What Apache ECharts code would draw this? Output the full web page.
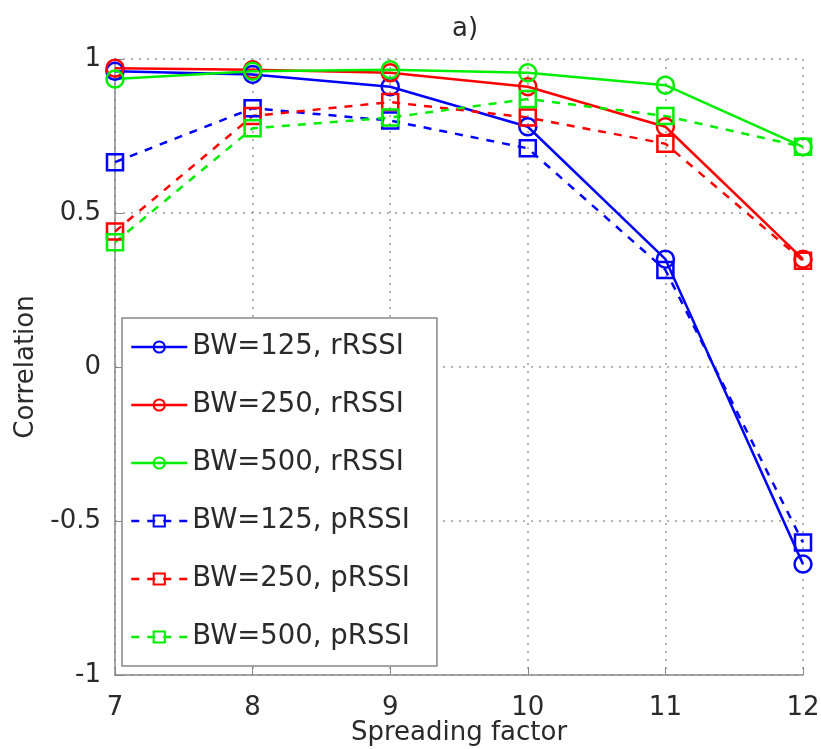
<!DOCTYPE html>
<html>
<head>
<meta charset="utf-8">
<script src="https://cdn.jsdelivr.net/npm/echarts@6/dist/echarts.min.js"></script>
<style>
  html, body { margin: 0; padding: 0; background: #fff; }
  #chart { width: 821px; height: 749px; }
</style>
</head>
<body>
<div id="chart"></div>
<script>
// spreading factors on the x axis
const spreadingFactors = [7, 8, 9, 10, 11, 12];

// correlation values
const bw125r = [0.96, 0.95, 0.91, 0.78, 0.35, -0.64];
const bw250r = [0.97, 0.965, 0.955, 0.91, 0.78, 0.35];
const bw500r = [0.935, 0.96, 0.965, 0.955, 0.915, 0.715];
const bw125p = [0.665, 0.84, 0.80, 0.71, 0.315, -0.57];
const bw250p = [0.44, 0.815, 0.86, 0.81, 0.725, 0.345];
const bw500p = [0.405, 0.775, 0.81, 0.87, 0.815, 0.715];

const font = 'DejaVu Sans';
const textColor = '#2a2a2a';

function pairs(vals) {
    return spreadingFactors.map((x, i) => [x, vals[i]]);
}

function makeSeries(name, vals, color, dashed) {
    return {
        name: name,
        type: 'line',
        data: pairs(vals),
        symbol: dashed ? 'rect' : 'circle',
        symbolSize: dashed ? 16 : 17,
        lineStyle: {
            color: color,
            width: 2.5,
            type: dashed ? [8, 8] : 'solid'
        },
        itemStyle: {
            color: 'rgba(255,255,255,0)',
            borderColor: color,
            borderWidth: 2.5
        },
        emphasis: { disabled: true },
        animation: false
    };
}

let chart = echarts.init(document.getElementById('chart'));

let option = {
    backgroundColor: '#fff',
    title: {
        text: 'a)',
        left: 460,
        top: 11,
        textAlign: 'center',
        textStyle: { fontFamily: font, fontSize: 26, fontWeight: 'normal', color: textColor }
    },
    grid: {
        left: 115,
        right: 18,
        top: 59,
        bottom: 74,
        outerBoundsMode: 'none'
    },
    legend: {
        orient: 'vertical',
        left: 122,
        top: 318,
        padding: [14, 27, 14, 8],
        itemGap: 28,
        itemWidth: 56,
        itemHeight: 14,
        backgroundColor: '#fff',
        borderColor: '#888',
        borderWidth: 1.5,
        borderRadius: 0,
        lineStyle: { width: 2.5 },
        textStyle: { fontFamily: font, fontSize: 27.5, color: textColor, lineHeight: 30 }
    },
    xAxis: {
        type: 'value',
        min: 7,
        max: 12,
        interval: 1,
        name: 'Spreading factor',
        nameLocation: 'middle',
        nameGap: 45,
        nameMoveOverlap: false,
        nameTextStyle: { fontFamily: font, fontSize: 26, color: textColor },
        axisLine: { onZero: false, lineStyle: { color: '#888', width: 1.5 } },
        axisTick: { inside: true, length: 8, lineStyle: { color: '#888' } },
        axisLabel: { fontFamily: font, fontSize: 26, color: textColor, margin: 20 },
        splitLine: { show: true, lineStyle: { color: '#999', type: [2, 6], width: 1.5 } }
    },
    yAxis: {
        type: 'value',
        min: -1,
        max: 1,
        interval: 0.5,
        name: 'Correlation',
        nameLocation: 'middle',
        nameRotate: 90,
        nameGap: 76,
        nameMoveOverlap: false,
        nameTextStyle: { fontFamily: font, fontSize: 26, color: textColor },
        axisLine: { show: true, onZero: false, lineStyle: { color: '#888', width: 1.5 } },
        axisTick: { show: true, inside: true, length: 8, lineStyle: { color: '#888' } },
        axisLabel: { fontFamily: font, fontSize: 26, color: textColor, margin: 14 },
        splitLine: { show: true, lineStyle: { color: '#999', type: [2, 6], width: 1.5 } }
    },
    series: [
        makeSeries('BW=125, rRSSI', bw125r, '#0000ff', false),
        makeSeries('BW=250, rRSSI', bw250r, '#ff0000', false),
        makeSeries('BW=500, rRSSI', bw500r, '#00ee00', false),
        makeSeries('BW=125, pRSSI', bw125p, '#0000ff', true),
        makeSeries('BW=250, pRSSI', bw250p, '#ff0000', true),
        makeSeries('BW=500, pRSSI', bw500p, '#00ee00', true)
    ]
};
chart.setOption(option, true);
</script>
</body>
</html>
